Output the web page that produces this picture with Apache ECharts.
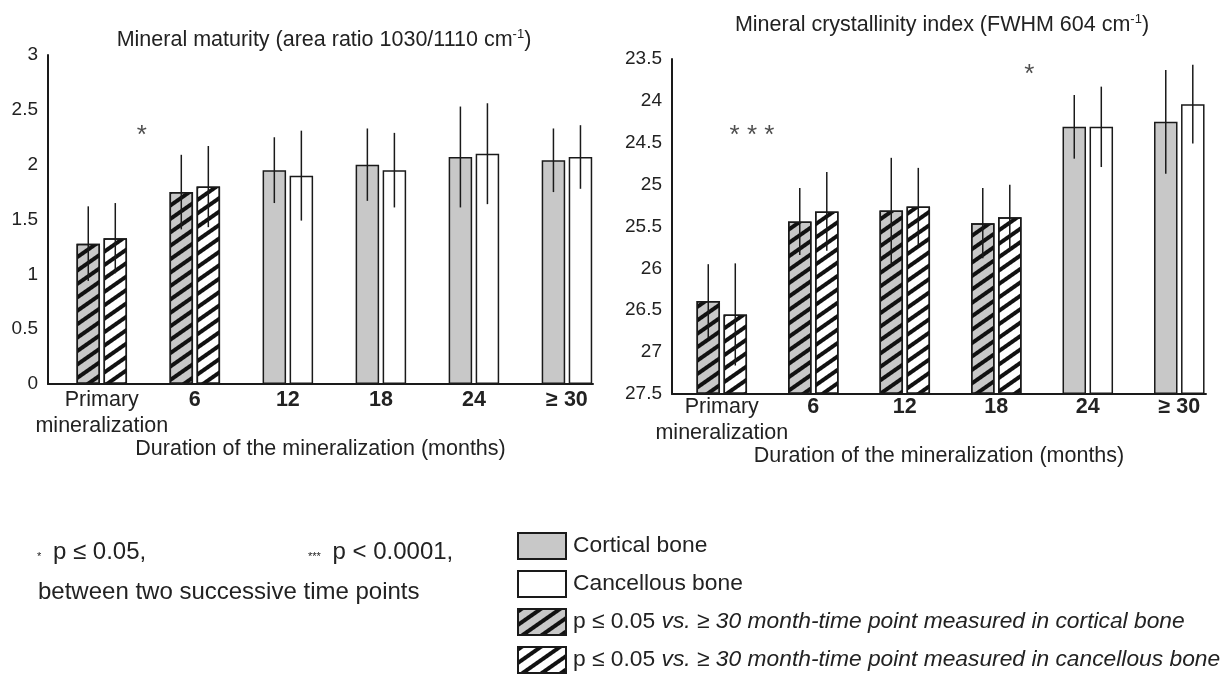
<!DOCTYPE html>
<html><head><meta charset="utf-8">
<script src="https://cdn.jsdelivr.net/npm/echarts@6/dist/echarts.min.js"></script>
<style>html,body{margin:0;padding:0;background:#fff}#c{width:1227px;height:674px}</style>
</head><body><div id="c"></div>
<script>
// ---------- data ----------
const categories = ['Primary\nmineralization', '6', '12', '18', '24', '≥ 30'];
const maturityCortical     = [1.28, 1.75, 1.95, 2.00, 2.07, 2.04];
const maturityCorticalSD   = [0.34, 0.34, 0.30, 0.33, 0.46, 0.29];
const maturityCancellous   = [1.33, 1.80, 1.90, 1.95, 2.10, 2.07];
const maturityCancellousSD = [0.32, 0.37, 0.41, 0.34, 0.46, 0.29];
const maturityHatched      = [true, true, false, false, false, false];
const crystCortical     = [26.39, 25.44, 25.31, 25.46, 24.31, 24.25];
const crystCorticalSD   = [0.44, 0.40, 0.63, 0.42, 0.38, 0.62];
const crystCancellous   = [26.55, 25.32, 25.26, 25.39, 24.31, 24.04];
const crystCancellousSD = [0.61, 0.47, 0.46, 0.39, 0.48, 0.47];
const crystHatched      = [true, true, true, true, false, false];
const maturityTicks = ['0', '0.5', '1', '1.5', '2', '2.5', '3'];
const crystTicks = ['23.5', '24', '24.5', '25', '25.5', '26', '26.5', '27', '27.5'];
const maturitySig = [{text: '*', x: 0.43, y: 2.26}];
const crystSig = [{text: '* * *', x: 0.33, y: 24.42}, {text: '*', x: 3.36, y: 23.69}];
const nameCortical = 'Cortical bone';
const nameCancellous = 'Cancellous bone';
const nameHatchCort = 'p ≤ 0.05 vs. ≥ 30 month-time point measured in cortical bone';
const nameHatchCanc = 'p ≤ 0.05 vs. ≥ 30 month-time point measured in cancellous bone';
const titleMaturity = ['Mineral maturity (area ratio 1030/1110 cm', '-1', ')'];
const titleCryst = ['Mineral crystallinity index (FWHM 604 cm', '-1', ')'];
const xName = 'Duration of the mineralization (months)';

// ---------- style ----------
const FF = '"Liberation Sans", Arial, Helvetica, sans-serif';
const INK = '#1a1a1a';
const TXT = '#222';
const GRAY = '#c8c8c8';
const BW = 23.5, GAP = 0.15;
const LEG_FS = 22.8;
const HATCH = {symbol: 'rect', symbolSize: 1, dashArrayX: [1, 0], dashArrayY: [3.5, 6.5], rotation: -0.61, color: '#111'};

function barSeries(name, vals, hatched, color, gi, stack) {
  return {
    type: 'bar', name, xAxisIndex: gi, yAxisIndex: gi, stack, barWidth: BW, barGap: (GAP * 100) + '%',
    itemStyle: {color, borderColor: INK, borderWidth: 1.5}, z: 2,
    data: vals.map((v, i) => hatched[i] ? {value: [i, v], itemStyle: {decal: HATCH}} : {value: [i, v]})
  };
}
function errSeries(vals, sds, side, gi) {
  return {
    type: 'custom', xAxisIndex: gi, yAxisIndex: gi, z: 6, silent: true,
    encode: {x: 0, y: [1, 2]},
    data: vals.map((v, i) => [i, v - sds[i], v + sds[i]]),
    renderItem(params, api) {
      const x = api.value(0);
      const a = api.coord([x, api.value(1)]), b = api.coord([x, api.value(2)]);
      const off = side * BW * (1 + GAP) / 2;
      return {type: 'line', shape: {x1: a[0] + off, y1: a[1], x2: b[0] + off, y2: b[1]},
        style: {stroke: INK, lineWidth: 1.5}};
    }
  };
}
function sigSeries(marks, gi) {
  return {
    type: 'scatter', xAxisIndex: gi, yAxisIndex: gi, symbolSize: 1, silent: true, z: 7,
    itemStyle: {color: 'rgba(0,0,0,0)'},
    label: {show: true, position: 'inside', formatter: p => p.name, fontSize: 26, color: TXT, fontFamily: FF},
    data: marks.map(m => ({name: m.text, value: [m.x, m.y]}))
  };
}
function catLabel(v) {
  const i = Math.round(v);
  if (Math.abs(v - i) > 1e-6 || i < 0 || i >= categories.length) return '';
  const c = categories[i];
  if (c.indexOf('\n') >= 0) return c.split('\n').map(s => '{n|' + s + '}').join('\n');
  return '{b|' + c + '}';
}
function xAxisCfg(gi, min, max, margin, nameGap) {
  return {
    type: 'value', gridIndex: gi, min, max, minInterval: 1, maxInterval: 1,
    splitLine: {show: false}, axisTick: {show: false},
    axisLine: {show: true, onZero: false, lineStyle: {color: INK, width: 2}},
    axisLabel: {margin, formatter: catLabel, color: TXT, fontFamily: FF,
      rich: {n: {fontSize: 21.5, lineHeight: 26, color: TXT, fontFamily: FF},
             b: {fontSize: 21.5, lineHeight: 26, fontWeight: 'bold', color: TXT, fontFamily: FF}}},
    name: xName, nameLocation: 'middle', nameGap,
    nameTextStyle: {fontSize: 21.5, color: TXT, fontFamily: FF}
  };
}
function yAxisCfg(gi, min, max, ticks, inverse) {
  return {
    type: 'value', gridIndex: gi, min, max, interval: 0.5, inverse,
    startValue: inverse ? max : undefined,
    splitLine: {show: false}, axisTick: {show: false},
    axisLine: {show: true, onZero: false, lineStyle: {color: INK, width: 2}},
    axisLabel: {margin: 10, fontSize: 19, color: TXT, fontFamily: FF,
      formatter: v => ticks[Math.round((v - min) / 0.5)]}
  };
}
function titleCfg(parts, x, top) {
  return {
    text: '{t|' + parts[0] + '}{s|' + parts[1] + '}{t|' + parts[2] + '}',
    left: x, top, textAlign: 'center', textVerticalAlign: 'top', padding: 0,
    textStyle: {fontWeight: 'normal', fontSize: 21.5, color: TXT, fontFamily: FF,
      rich: {t: {fontSize: 21.5, fontWeight: 'normal', color: TXT, fontFamily: FF, lineHeight: 24},
             s: {fontSize: 13, fontWeight: 'normal', color: TXT, fontFamily: FF, lineHeight: 24, verticalAlign: 'top'}}}
  };
}
function noteCfg(text, left, top) {
  return {
    text, left, top, padding: 0, textAlign: 'left', textVerticalAlign: 'top',
    textStyle: {fontSize: 24, fontWeight: 'normal', color: TXT, fontFamily: FF,
      rich: {s: {fontSize: 11, fontWeight: 'normal', color: TXT, fontFamily: FF, padding: [10, 5, 0, 0]}}}
  };
}

const chart = echarts.init(document.getElementById('c'), null, {renderer: 'canvas'});
chart.setOption({
  backgroundColor: '#ffffff',
  animation: false,
  title: [
    titleCfg(titleMaturity, 324, 28),
    titleCfg(titleCryst, 942, 13),
    noteCfg('{s|*} p ≤ 0.05,', 37, 540),
    noteCfg('{s|***} p < 0.0001,', 308, 540),
    noteCfg('between two successive time points', 38, 580)
  ],
  legend: {
    orient: 'vertical', left: 517, top: 532, width: 710, height: 170, padding: 0, itemGap: 10,
    itemWidth: 48, itemHeight: 26, selectedMode: false, icon: 'rect',
    data: [nameCortical, nameCancellous, nameHatchCort, nameHatchCanc],
    formatter: n => n.indexOf('p ≤ 0.05 ') === 0 ? '{r|p ≤ 0.05 }{i|' + n.slice(9) + '}' : '{r|' + n + '}',
    textStyle: {fontSize: LEG_FS, lineHeight: 26, color: TXT, fontFamily: FF,
      rich: {r: {fontSize: LEG_FS, lineHeight: 26, color: TXT, fontFamily: FF, padding: [0, 0, 0, 2]},
             i: {fontSize: LEG_FS, lineHeight: 26, fontStyle: 'italic', color: TXT, fontFamily: FF}}}
  },
  grid: [
    {left: 48, top: 55, width: 545, height: 329},
    {left: 672, top: 59, width: 534, height: 335}
  ],
  xAxis: [xAxisCfg(0, -0.578, 5.28, 3, 52), xAxisCfg(1, -0.544, 5.292, 0, 50)],
  yAxis: [yAxisCfg(0, 0, 3, maturityTicks, false), yAxisCfg(1, 23.5, 27.5, crystTicks, true)],
  series: [
    barSeries(nameCortical, maturityCortical, maturityHatched, GRAY, 0, 'A'),
    barSeries(nameCancellous, maturityCancellous, maturityHatched, '#ffffff', 0, 'B'),
    {type: 'bar', name: nameHatchCort, xAxisIndex: 0, yAxisIndex: 0, stack: 'A', barWidth: BW, barGap: (GAP * 100) + '%', data: [],
     itemStyle: {color: GRAY, borderColor: INK, borderWidth: 1.5, decal: HATCH}},
    {type: 'bar', name: nameHatchCanc, xAxisIndex: 0, yAxisIndex: 0, stack: 'B', barWidth: BW, barGap: (GAP * 100) + '%', data: [],
     itemStyle: {color: '#ffffff', borderColor: INK, borderWidth: 1.5, decal: HATCH}},
    barSeries(nameCortical, crystCortical, crystHatched, GRAY, 1, undefined),
    barSeries(nameCancellous, crystCancellous, crystHatched, '#ffffff', 1, undefined),
    errSeries(maturityCortical, maturityCorticalSD, -1, 0),
    errSeries(maturityCancellous, maturityCancellousSD, 1, 0),
    errSeries(crystCortical, crystCorticalSD, -1, 1),
    errSeries(crystCancellous, crystCancellousSD, 1, 1),
    sigSeries(maturitySig, 0),
    sigSeries(crystSig, 1)
  ]
});
</script></body></html>
